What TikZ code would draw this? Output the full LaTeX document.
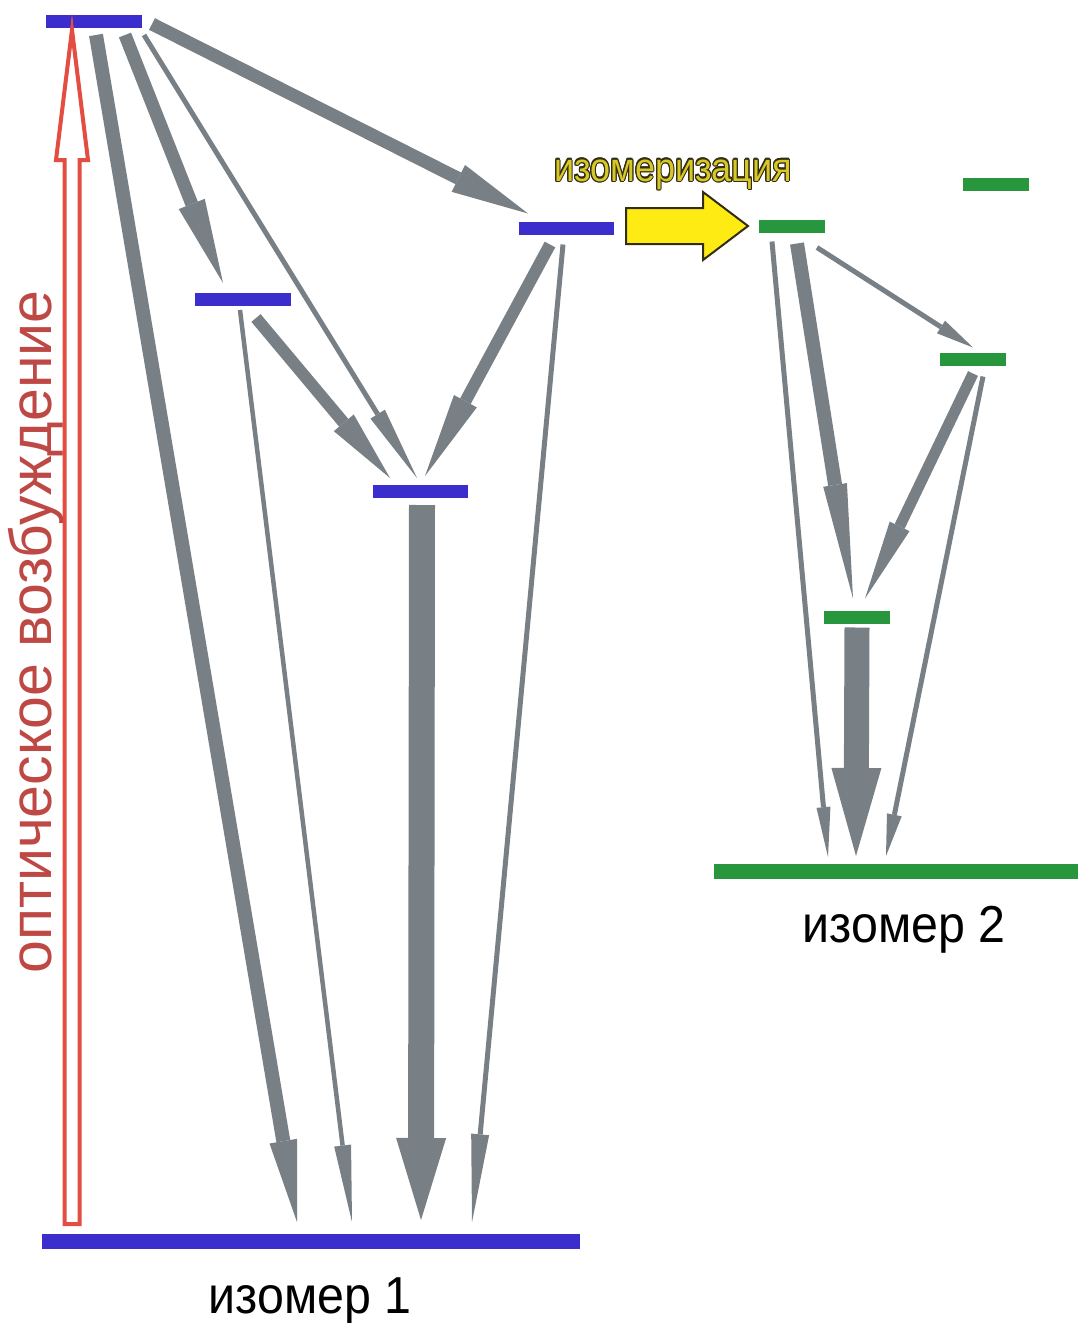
\documentclass[tikz,border=0pt]{standalone}
\usepackage{fontspec}
\usepackage{graphicx}
\usepackage{contour}
\setmainfont{Liberation Sans}
\usetikzlibrary{arrows.meta,calc}
\definecolor{barblue}{RGB}{60,45,205}
\definecolor{bargreen}{RGB}{40,150,60}
\definecolor{arrgray}{RGB}{120,128,134}
\definecolor{exred}{RGB}{228,78,66}
\definecolor{exredtext}{RGB}{190,72,68}
\definecolor{isoyellow}{RGB}{255,235,20}
\definecolor{isotext}{RGB}{215,200,40}
\definecolor{isoline}{RGB}{50,45,20}
\contourlength{1.1pt}
\tikzset{
  levelbar/.style={fill=#1, draw=none, inner sep=0pt, outer sep=0pt, minimum height=13pt},
  garrow/.style n args={3}{draw=arrgray, line width=#1, line cap=butt,
     -{Triangle[length=#2,width=#3,line width=0pt]}},
  biglabel/.style={font=\fontsize{52}{60}\selectfont, text=black, inner sep=0pt, anchor=base}
}
\begin{document}
\begin{tikzpicture}[x=1pt,y=-1pt]
\useasboundingbox (0,0) rectangle (1078,1323);
\fill[white] (0,0) rectangle (1078,1323);

% isomer 1 levels
\node[levelbar=barblue, minimum width=96pt] (A) at (94,21.5) {};
\node[levelbar=barblue, minimum width=96pt] (B) at (243,299.5) {};
\node[levelbar=barblue, minimum width=95pt] (C) at (420.5,491.5) {};
\node[levelbar=barblue, minimum width=95pt] (D) at (566.5,228) {};
\node[levelbar=barblue, minimum width=538pt, minimum height=15pt] (g1) at (311,1241.5) {};

% isomer 2 levels
\node[levelbar=bargreen, minimum width=66pt] (E) at (792,226) {};
\node[levelbar=bargreen, minimum width=66pt] (T) at (996,184.5) {};
\node[levelbar=bargreen, minimum width=66pt] (F) at (973,359) {};
\node[levelbar=bargreen, minimum width=66pt] (H) at (857,617) {};
\node[levelbar=bargreen, minimum width=364pt, minimum height=15pt] (g2) at (896,871.5) {};

% isomer 1 transitions
\draw[garrow={14pt}{82pt}{28pt}] ([shift={(50,7)}]A.south west) -- ([shift={(255,-12)}]g1.north west);
\draw[garrow={13pt}{85pt}{28pt}] ([shift={(79,7)}]A.south west) -- ([shift={(28,-10)}]B.north west);
\draw[garrow={5pt}{75pt}{17pt}] ([shift={(98,7)}]A.south west) -- ([shift={(44,-7)}]C.north west);
\draw[garrow={13pt}{78pt}{30pt}] ([shift={(10,-4)}]A.south east) -- ([shift={(9,-8)}]D.north west);
\draw[garrow={4.5pt}{77pt}{17pt}] ([shift={(45,4)}]B.south west) -- ([shift={(310,-12)}]g1.north west);
\draw[garrow={12pt}{72pt}{26pt}] ([shift={(61,12)}]B.south west) -- ([shift={(17,-7)}]C.north west);
\draw[garrow={12pt}{85pt}{26pt}] ([shift={(31,10)}]D.south west) -- ([shift={(52,-9)}]C.north west);
\draw[garrow={5pt}{88pt}{18pt}] ([shift={(44,10)}]D.south west) -- ([shift={(430,-12)}]g1.north west);
\draw[garrow={26pt}{82pt}{50pt}] ([shift={(49,7)}]C.south west) -- ([shift={(379,-14)}]g1.north west);

% isomer 2 transitions
\draw[garrow={5pt}{50pt}{14pt}] ([shift={(13,9)}]E.south west) -- ([shift={(114,-7)}]g2.north west);
\draw[garrow={14pt}{115pt}{24pt}] ([shift={(38,11)}]E.south west) -- ([shift={(29,-12)}]H.north west);
\draw[garrow={5pt}{38pt}{15pt}] ([shift={(58,15)}]E.south west) -- ([shift={(33,-5)}]F.north west);
\draw[garrow={11pt}{80pt}{22pt}] ([shift={(33,8)}]F.south west) -- ([shift={(41,-12)}]H.north west);
\draw[garrow={5pt}{42pt}{15pt}] ([shift={(43,11)}]F.south west) -- ([shift={(172,-8)}]g2.north west);
\draw[garrow={25pt}{88pt}{50pt}] ([shift={(33,4)}]H.south west) -- ([shift={(142,-8)}]g2.north west);

% optical excitation (hollow red arrow)
\coordinate (rt) at ([shift={(26,2)}]A.south west);
\coordinate (rb) at ([shift={(30,-10)}]g1.north west);
\draw[exred, line width=4pt, fill=white, line join=miter]
  (rt) -- ([shift={(16,130)}]rt) -- ([shift={(7.5,130)}]rt) -- ([shift={(7.5,0)}]rb)
  -- ([shift={(-7.5,0)}]rb) -- ([shift={(-7.5,130)}]rt) -- ([shift={(-16,130)}]rt) -- cycle;

% isomerization arrow
\coordinate (ye) at ([xshift=-11pt]E.west);
\coordinate (ys) at ([xshift=12pt]D.east |- ye);
\draw[isoline, line width=2pt, fill=isoyellow, line join=miter]
  ([shift={(0,-18)}]ys) -- ([shift={(-45,-18)}]ye) -- ([shift={(-45,-34)}]ye) -- (ye)
  -- ([shift={(-45,34)}]ye) -- ([shift={(-45,18)}]ye) -- ([shift={(0,18)}]ys) -- cycle;

% labels
\node[inner sep=0pt, anchor=base, font=\fontsize{40}{48}\selectfont] (iso) at (673,181)
  {\scalebox{0.9}[1]{\contour{isoline}{\textcolor{isotext}{изомеризация}}}};
\node[biglabel] (l1) at (310,1313) {\scalebox{0.93}[1]{изомер 1}};
\node[biglabel] (l2) at (904,942) {\scalebox{0.93}[1]{изомер 2}};
\node[inner sep=0pt, anchor=base, rotate=90, text=exredtext, font=\fontsize{59}{64}\selectfont] (exc) at (51,632) {оптическое возбуждение};
\end{tikzpicture}
\end{document}
